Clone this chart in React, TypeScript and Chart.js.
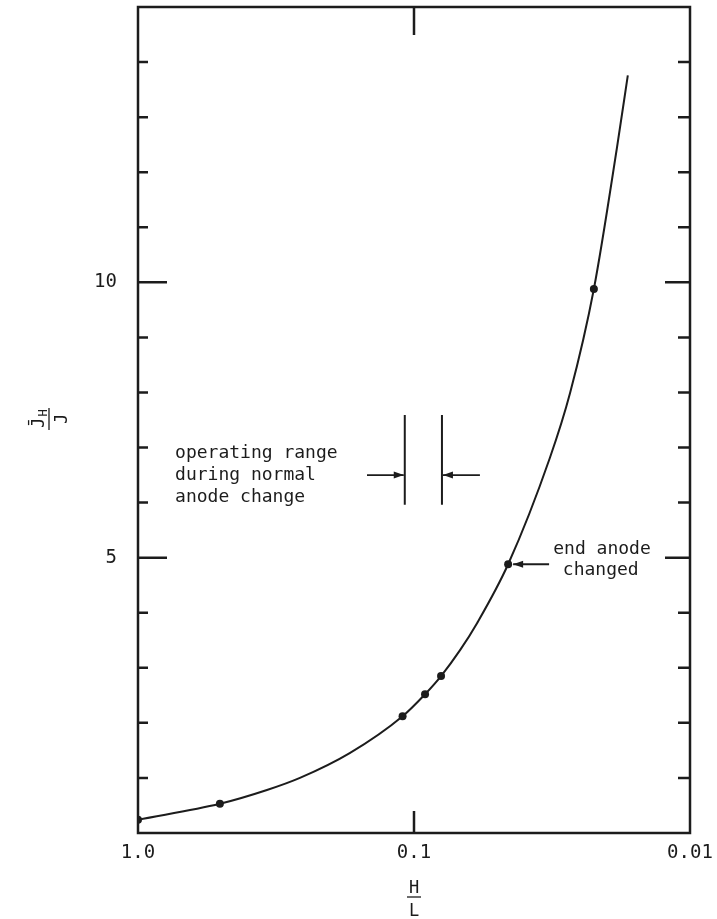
import React, { useEffect, useRef } from "react";
import { Chart, registerables } from "chart.js";

Chart.register(...registerables);

// ---- data ----
const markerHL = [1.0, 0.505, 0.11, 0.0912, 0.0798, 0.0456, 0.0223];
const markerJ = [0.24, 0.53, 2.12, 2.52, 2.85, 4.88, 9.88];

const curveHL = [1.0, 0.505, 0.341, 0.259, 0.171, 0.11, 0.0912, 0.0798, 0.0681, 0.0591, 0.0456, 0.0322, 0.0272, 0.0223, 0.0184, 0.0168];
const curveJ = [0.24, 0.53, 0.78, 1.0, 1.45, 2.12, 2.52, 2.85, 3.32, 3.81, 4.88, 6.81, 7.99, 9.88, 12.44, 13.76];

const xTickValues = [1.0, 0.1, 0.01];
const xTickLabels = ["1.0", "0.1", "0.01"];
const yMajorTicks = [5, 10];
const yMinorTicks = [1, 2, 3, 4, 6, 7, 8, 9, 11, 12, 13, 14];

// annotations (in data units)
const opRangeHL = [0.108, 0.0792];
const opRangeJ = [5.96, 7.59];
const opArrowJ = 6.5;
const opArrowOuterHL = [0.148, 0.0577];
const opText = ["operating range", "during normal", "anode change"];
const opTextHL = 0.734;
const opTextJ = [6.81, 6.41, 6.01];

const endText = ["end anode", "changed"];
const endTextHL = [0.0313, 0.0289];
const endTextJ = [5.07, 4.68];
const endArrowFromHL = 0.0324;
const endPointIndex = 5;

const FONT = '"DejaVu Sans Mono", monospace';
const INK = "#1c1c1c";

const decorPlugin = {
  id: "decor",
  afterDraw(chart: any) {
    const { ctx, chartArea: a, scales } = chart;
    const xs = scales.x;
    const ys = scales.y;
    ctx.save();
    ctx.strokeStyle = INK;
    ctx.fillStyle = INK;
    // frame
    ctx.lineWidth = 2.5;
    ctx.strokeRect(a.left, a.top, a.right - a.left, a.bottom - a.top);
    // y ticks inward
    ctx.lineWidth = 2.5;
    ctx.beginPath();
    yMinorTicks.forEach((v) => {
      const y = ys.getPixelForValue(v);
      ctx.moveTo(a.left, y); ctx.lineTo(a.left + 10, y);
      ctx.moveTo(a.right, y); ctx.lineTo(a.right - 12, y);
    });
    yMajorTicks.forEach((v) => {
      const y = ys.getPixelForValue(v);
      ctx.moveTo(a.left, y); ctx.lineTo(a.left + 29, y);
      ctx.moveTo(a.right, y); ctx.lineTo(a.right - 25, y);
    });
    // x ticks (0.1) inward
    const x01 = xs.getPixelForValue(0.1);
    ctx.moveTo(x01, a.bottom); ctx.lineTo(x01, a.bottom - 22);
    ctx.moveTo(x01, a.top); ctx.lineTo(x01, a.top + 28);
    ctx.stroke();

    const arrow = (x1: number, y1: number, x2: number, y2: number) => {
      ctx.lineWidth = 1.8;
      ctx.beginPath();
      ctx.moveTo(x1, y1); ctx.lineTo(x2, y2);
      ctx.stroke();
      const ang = Math.atan2(y2 - y1, x2 - x1);
      const L = 10, W = 3.5;
      ctx.beginPath();
      ctx.moveTo(x2, y2);
      ctx.lineTo(x2 - L * Math.cos(ang) + W * Math.sin(ang), y2 - L * Math.sin(ang) - W * Math.cos(ang));
      ctx.lineTo(x2 - L * Math.cos(ang) - W * Math.sin(ang), y2 - L * Math.sin(ang) + W * Math.cos(ang));
      ctx.closePath();
      ctx.fill();
    };

    // operating range bars
    ctx.lineWidth = 2;
    ctx.beginPath();
    opRangeHL.forEach((h) => {
      const x = xs.getPixelForValue(h);
      ctx.moveTo(x, ys.getPixelForValue(opRangeJ[1]));
      ctx.lineTo(x, ys.getPixelForValue(opRangeJ[0]));
    });
    ctx.stroke();
    const ay = ys.getPixelForValue(opArrowJ);
    arrow(xs.getPixelForValue(opArrowOuterHL[0]), ay, xs.getPixelForValue(opRangeHL[0]) - 1, ay);
    arrow(xs.getPixelForValue(opArrowOuterHL[1]), ay, xs.getPixelForValue(opRangeHL[1]) + 1, ay);

    // end anode arrow
    const px = xs.getPixelForValue(markerHL[endPointIndex]);
    const py = ys.getPixelForValue(markerJ[endPointIndex]);
    arrow(xs.getPixelForValue(endArrowFromHL), py, px + 5, py);

    // texts
    ctx.font = `18px ${FONT}`;
    ctx.textAlign = "left";
    ctx.textBaseline = "alphabetic";
    opText.forEach((t, i) => {
      ctx.fillText(t, xs.getPixelForValue(opTextHL), ys.getPixelForValue(opTextJ[i]));
    });
    endText.forEach((t, i) => {
      ctx.fillText(t, xs.getPixelForValue(endTextHL[i]), ys.getPixelForValue(endTextJ[i]));
    });

    // x title: H over L
    const cx = (a.left + a.right) / 2;
    ctx.textAlign = "center";
    ctx.font = `17px ${FONT}`;
    ctx.fillText("H", cx, a.bottom + 60);
    ctx.lineWidth = 1.3;
    ctx.beginPath();
    ctx.moveTo(cx - 7, a.bottom + 64); ctx.lineTo(cx + 7, a.bottom + 64);
    ctx.stroke();
    ctx.fillText("L", cx, a.bottom + 83);

    // y title: J̄_H over J, rotated
    ctx.save();
    ctx.translate(50, 419);
    ctx.rotate(-Math.PI / 2);
    ctx.font = `17px ${FONT}`;
    ctx.textAlign = "center";
    ctx.fillText("J\u0304", -4, -6);
    ctx.font = `12px ${FONT}`;
    ctx.fillText("H", 6, -3);
    ctx.lineWidth = 1.3;
    ctx.beginPath();
    ctx.moveTo(-11, -1); ctx.lineTo(11, -1);
    ctx.stroke();
    ctx.font = `17px ${FONT}`;
    ctx.fillText("J", 0, 17);
    ctx.restore();

    ctx.restore();
  },
};

export default function App() {
  const ref = useRef<HTMLCanvasElement | null>(null);
  useEffect(() => {
    document.body.style.margin = "0";
    const canvas = ref.current!;
    const chart = new Chart(canvas, {
      type: "scatter",
      data: {
        datasets: [
          {
            data: curveHL.map((h, i) => ({ x: h, y: curveJ[i] })),
            showLine: true,
            borderColor: INK,
            borderWidth: 2,
            pointRadius: 0,
            cubicInterpolationMode: "monotone",
          } as any,
          {
            data: markerHL.map((h, i) => ({ x: h, y: markerJ[i] })),
            showLine: false,
            pointRadius: 4,
            backgroundColor: INK,
            borderColor: INK,
            borderWidth: 0,
          },
        ],
      },
      options: {
        animation: false,
        responsive: false,
        events: [],
        layout: { padding: { top: 7, right: 27, left: 0, bottom: 0 } },
        plugins: { legend: { display: false }, tooltip: { enabled: false } },
        scales: {
          x: {
            type: "logarithmic",
            reverse: true,
            min: 0.01,
            max: 1,
            grid: { display: false, drawTicks: false },
            border: { display: false },
            afterBuildTicks: (s: any) => {
              s.ticks = xTickValues.map((v) => ({ value: v }));
            },
            afterFit: (s: any) => {
              s.height = 86;
              s.paddingLeft = 0;
              s.paddingRight = 0;
            },
            ticks: {
              autoSkip: false,
              maxRotation: 0,
              padding: 9,
              color: INK,
              font: { family: FONT, size: 19 },
              callback: (v: any) => {
                const i = xTickValues.findIndex((t) => Math.abs(t - Number(v)) < 1e-9);
                return i >= 0 ? xTickLabels[i] : "";
              },
            },
          },
          y: {
            type: "linear",
            min: 0,
            max: 15,
            grid: { display: false, drawTicks: false },
            border: { display: false },
            afterFit: (s: any) => {
              s.width = 138;
              s.paddingTop = 0;
              s.paddingBottom = 0;
            },
            ticks: {
              stepSize: 1,
              autoSkip: false,
              padding: 21,
              color: INK,
              font: { family: FONT, size: 19 },
              callback: (v: any) => (yMajorTicks.includes(Number(v)) ? String(v) : ""),
            },
          },
        },
      },
      plugins: [decorPlugin],
    });
    return () => chart.destroy();
  }, []);
  return (
    <div style={{ width: 717, height: 919, background: "#fff" }}>
      <canvas ref={ref} width={717} height={919} style={{ display: "block" }} />
    </div>
  );
}
